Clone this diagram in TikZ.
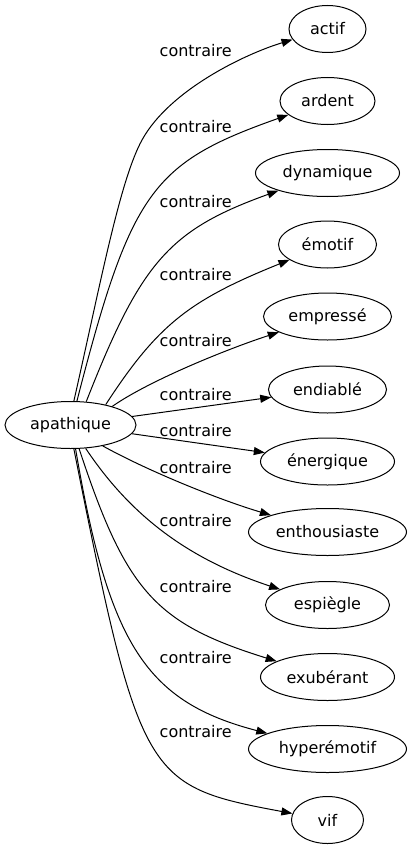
\documentclass[tikz,border=0pt]{standalone}
\usepackage{fontspec}
\setmainfont{DejaVu Sans}
\usetikzlibrary{shapes.geometric}
\usetikzlibrary{arrows.meta}

\begin{document}
\begin{tikzpicture}[x=1pt,y=-1pt,
    mot/.style={draw, ellipse, line width=1pt, inner sep=0pt, minimum height=47pt, font=\fontsize{16}{19}\selectfont},
    rel/.style={draw, line width=1pt, -{Triangle[length=11pt,width=8pt]}},
    lab/.style={anchor=base west, inner sep=0pt, font=\fontsize{16}{19}\selectfont}]
    % Page size
    \useasboundingbox (0,0) rectangle (412,851);

    % Source word
    \node[mot, minimum width=131pt] (apathique) at (70.5,425) {apathique};

    % Opposite words, one per row
    \node[mot, minimum width=77pt] (actif) at (327.5,29) {actif};
    \node[mot, minimum width=95pt] (ardent) at (327.5,101) {ardent};
    \node[mot, minimum width=144pt] (dynamique) at (327.5,173) {dynamique};
    \node[mot, minimum width=98pt] (emotif) at (327.5,244.5) {émotif};
    \node[mot, minimum width=128pt] (empresse) at (327.5,316.5) {empressé};
    \node[mot, minimum width=118pt] (endiable) at (327.5,389.5) {endiablé};
    \node[mot, minimum width=134pt] (energique) at (327.5,461.5) {énergique};
    \node[mot, minimum width=158pt] (enthousiaste) at (327.5,532) {enthousiaste};
    \node[mot, minimum width=124pt] (espiegle) at (327.5,605) {espiègle};
    \node[mot, minimum width=134pt] (exuberant) at (327.5,677) {exubérant};
    \node[mot, minimum width=158pt] (hyperemotif) at (327.5,749) {hyperémotif};
    \node[mot, minimum width=72pt] (vif) at (327.5,820) {vif};

    % Connectors
    \draw[rel] (apathique.82) .. controls (101,281) and (120,180) .. (142,140) .. controls (169.5,90) and (245,54) .. (actif);
    \draw[rel] (apathique.75) .. controls (131,191) and (152,163) .. (ardent);
    \draw[rel] (apathique.56) .. controls (141,262) and (169,230) .. (dynamique);
    \draw[rel] (apathique.30) .. controls (158,324) and (190,300) .. (emotif);
    \draw[rel] (apathique.24) .. controls (150,380) and (230,348) .. (empresse);
    \draw[rel] (apathique) -- (endiable);
    \draw[rel] (apathique) -- (energique);
    \draw[rel] (apathique.-33) .. controls (150,472) and (220,500) .. (enthousiaste);
    \draw[rel] (apathique.-57) .. controls (131.4,517) and (189.7,559.6) .. (espiegle);
    \draw[rel] (apathique.-70) .. controls (126,591) and (155,623.5) .. (exuberant);
    \draw[rel] (apathique.-78) .. controls (109,646) and (147,702) .. (hyperemotif);
    \draw[rel] (apathique.-82) .. controls (140,780) and (145,786) .. (vif);

    % Edge labels
    \node[lab] (c1) at (159.5,57) {contraire};
    \node[lab] (c2) at (159.5,132) {contraire};
    \node[lab] (c3) at (159.5,207) {contraire};
    \node[lab] (c4) at (159.5,280) {contraire};
    \node[lab] (c5) at (159.5,346) {contraire};
    \node[lab] (c6) at (159.5,400) {contraire};
    \node[lab] (c7) at (159.5,436) {contraire};
    \node[lab] (c8) at (159.5,473) {contraire};
    \node[lab] (c9) at (159.5,526) {contraire};
    \node[lab] (c10) at (159.5,592) {contraire};
    \node[lab] (c11) at (159.5,663) {contraire};
    \node[lab] (c12) at (159.5,737) {contraire};
\end{tikzpicture}
\end{document}
